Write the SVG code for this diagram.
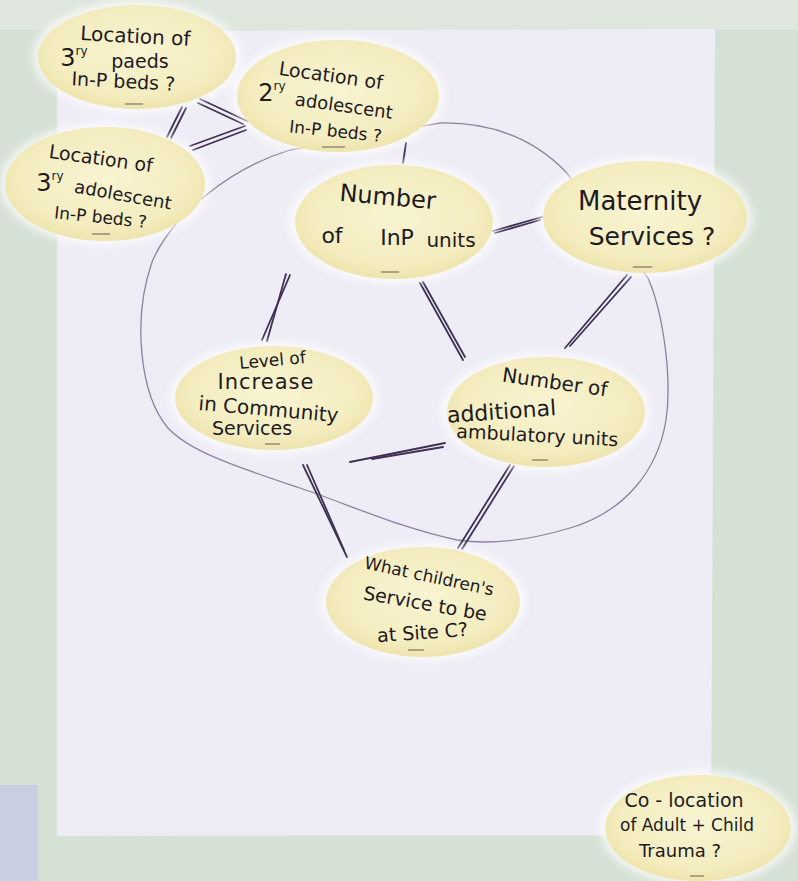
<svg xmlns="http://www.w3.org/2000/svg" width="798" height="881" viewBox="0 0 798 881">
  <defs>
    <radialGradient id="note" cx="50%" cy="45%" r="55%">
      <stop offset="0" stop-color="#f9f4d2"/>
      <stop offset="0.75" stop-color="#f4edc0"/>
      <stop offset="1" stop-color="#eee4ae"/>
    </radialGradient>
    <filter id="halo" x="-20%" y="-20%" width="140%" height="140%">
      <feGaussianBlur stdDeviation="4"/>
    </filter>
    <style>
      .note { fill: url(#note); }
      .glow { fill: #ffffff; opacity: 0.75; filter: url(#halo); }
      .mark { stroke: #8a8470; stroke-width: 1.4; }
      .hand { font-family: "DejaVu Sans", "Liberation Sans", sans-serif; fill: #1d1a22; text-anchor: middle; }
      .sup { font-size: 12px; }
      .pen { stroke: #3e3152; stroke-width: 1.8; stroke-linecap: round; fill: none; }
      .pencil { stroke: #8d829d; stroke-width: 1.3; fill: none; }
    </style>
  </defs>

  <!-- wall and flipchart sheet -->
  <rect x="0" y="0" width="798" height="881" fill="#d6e1d6"/>
  <rect x="0" y="0" width="798" height="30" fill="#dfe6dd"/>
  <rect x="0" y="785" width="38" height="96" fill="#c8cfe0"/>
  <polygon points="57,31 715,29 711,835 57,836" fill="#eeedf6"/>

  <!-- the loop drawn round the central group -->
  <path class="pencil" d="M 440,123 C 500,122 540,145 566,172 L 648,278 C 664,315 672,380 666,420 C 658,470 625,512 570,528 C 530,540 490,545 457,540 C 400,528 350,505 300,488 C 240,468 190,452 168,428 C 140,395 132,320 152,262 C 172,215 230,168 290,150 Z"/>

  <!-- connectors -->
  <g id="connectors">
    <line class="pen" x1="182" y1="107" x2="167" y2="137"/>
    <line class="pen" x1="186" y1="108" x2="171" y2="138"/>
    <line class="pen" x1="200" y1="99" x2="247" y2="121"/>
    <line class="pen" x1="198" y1="103" x2="243" y2="124"/>
    <line class="pen" x1="190" y1="146" x2="245" y2="126"/>
    <line class="pen" x1="193" y1="150" x2="246" y2="130"/>
    <line class="pen" x1="406" y1="143" x2="403" y2="163"/>
    <line class="pen" x1="493" y1="231" x2="542" y2="217"/>
    <line class="pen" x1="495" y1="233" x2="540" y2="220"/>
    <line class="pen" x1="290" y1="275" x2="262" y2="340"/>
    <line class="pen" x1="286" y1="274" x2="267" y2="341"/>
    <line class="pen" x1="420" y1="283" x2="463" y2="360" stroke-width="1.3"/>
    <line class="pen" x1="423" y1="282" x2="465" y2="357" stroke-width="1.3"/>
    <line class="pen" x1="627" y1="275" x2="565" y2="348" stroke-width="1.4"/>
    <line class="pen" x1="631" y1="277" x2="570" y2="346" stroke-width="1.4"/>
    <line class="pen" x1="350" y1="462" x2="445" y2="443"/>
    <line class="pen" x1="372" y1="459" x2="443" y2="447"/>
    <line class="pen" x1="303" y1="465" x2="347" y2="557"/>
    <line class="pen" x1="307" y1="465" x2="344" y2="550"/>
    <line class="pen" x1="510" y1="465" x2="458" y2="548"/>
    <line class="pen" x1="514" y1="466" x2="462" y2="549"/>
  </g>

  <!-- notes -->
  <g id="paeds-beds">
    <ellipse class="glow" cx="137" cy="57" rx="104" ry="56"/>
    <ellipse class="note" cx="137" cy="57" rx="99" ry="52"/>
    <line class="mark" x1="125" y1="104" x2="143" y2="104"/>
    <text class="hand" font-size="20" x="135" y="43" transform="rotate(3 135 43)">Location of</text>
    <text class="hand" font-size="24" x="74" y="66">3<tspan class="sup" dy="-11">ry</tspan></text>
    <text class="hand" font-size="19" x="140" y="68">paeds</text>
    <text class="hand" font-size="19" x="123" y="88" transform="rotate(3 123 88)">In-P  beds ?</text>
  </g>

  <g id="secondary-adolescent-beds">
    <ellipse class="glow" cx="338" cy="96" rx="106" ry="60"/>
    <ellipse class="note" cx="338" cy="96" rx="101" ry="56"/>
    <line class="mark" x1="322" y1="147" x2="345" y2="147"/>
    <text class="hand" font-size="19" x="330" y="82" transform="rotate(8 330 82)">Location of</text>
    <text class="hand" font-size="24" x="272" y="101">2<tspan class="sup" dy="-11">ry</tspan></text>
    <text class="hand" font-size="18" x="343" y="112" transform="rotate(8 343 112)">adolescent</text>
    <text class="hand" font-size="17" x="335" y="137" transform="rotate(6 335 137)">In-P  beds ?</text>
  </g>

  <g id="tertiary-adolescent-beds">
    <ellipse class="glow" cx="105" cy="184" rx="105" ry="61"/>
    <ellipse class="note" cx="105" cy="184" rx="100" ry="57"/>
    <line class="mark" x1="92" y1="234" x2="110" y2="234"/>
    <text class="hand" font-size="19" x="100" y="165" transform="rotate(8 100 165)">Location of</text>
    <text class="hand" font-size="24" x="50" y="191">3<tspan class="sup" dy="-11">ry</tspan></text>
    <text class="hand" font-size="18" x="122" y="201" transform="rotate(10 122 201)">adolescent</text>
    <text class="hand" font-size="17" x="100" y="223" transform="rotate(6 100 223)">In-P  beds ?</text>
  </g>

  <g id="inpatient-units">
    <ellipse class="glow" cx="394" cy="222" rx="104" ry="61"/>
    <ellipse class="note" cx="394" cy="222" rx="99" ry="57"/>
    <line class="mark" x1="381" y1="272" x2="399" y2="272"/>
    <text class="hand" font-size="24" x="387" y="205" transform="rotate(5 387 205)">Number</text>
    <text class="hand" font-size="22" x="332" y="243">of</text>
    <text class="hand" font-size="22" x="397" y="245">InP</text>
    <text class="hand" font-size="20" x="451" y="247">units</text>
  </g>

  <g id="maternity">
    <ellipse class="glow" cx="645" cy="217" rx="107" ry="60"/>
    <ellipse class="note" cx="645" cy="217" rx="102" ry="56"/>
    <line class="mark" x1="633" y1="267" x2="652" y2="267"/>
    <text class="hand" font-size="26" x="640" y="210">Maternity</text>
    <text class="hand" font-size="25" x="652" y="245">Services ?</text>
  </g>

  <g id="community-services">
    <ellipse class="glow" cx="274" cy="398" rx="104" ry="56"/>
    <ellipse class="note" cx="274" cy="398" rx="99" ry="52"/>
    <line class="mark" x1="265" y1="444" x2="280" y2="444"/>
    <text class="hand" font-size="17" x="273" y="366" transform="rotate(-5 273 366)">Level of</text>
    <text class="hand" font-size="21" x="266" y="389" letter-spacing="1">Increase</text>
    <text class="hand" font-size="20" x="268" y="416" transform="rotate(5 268 416)">in  Community</text>
    <text class="hand" font-size="19" x="252" y="435">Services</text>
  </g>

  <g id="ambulatory-units">
    <ellipse class="glow" cx="546" cy="412" rx="104" ry="59"/>
    <ellipse class="note" cx="546" cy="412" rx="99" ry="55"/>
    <line class="mark" x1="532" y1="460" x2="548" y2="460"/>
    <text class="hand" font-size="20" x="554" y="389" transform="rotate(8 554 389)">Number  of</text>
    <text class="hand" font-size="22" x="502" y="419" transform="rotate(-4 502 419)">additional</text>
    <text class="hand" font-size="19" x="537" y="442" transform="rotate(3 537 442)">ambulatory  units</text>
  </g>

  <g id="site-c">
    <ellipse class="glow" cx="423" cy="602" rx="102" ry="59"/>
    <ellipse class="note" cx="423" cy="602" rx="97" ry="55"/>
    <line class="mark" x1="408" y1="650" x2="424" y2="650"/>
    <text class="hand" font-size="17" x="428" y="582" transform="rotate(12 428 582)">What children's</text>
    <text class="hand" font-size="19" x="424" y="610" transform="rotate(10 424 610)">Service  to be</text>
    <text class="hand" font-size="19" x="423" y="639" transform="rotate(-4 423 639)">at  Site C?</text>
  </g>

  <g id="trauma-colocation">
    <ellipse class="glow" cx="698" cy="828" rx="98" ry="57"/>
    <ellipse class="note" cx="698" cy="828" rx="93" ry="53"/>
    <line class="mark" x1="690" y1="876" x2="704" y2="876"/>
    <text class="hand" font-size="19" x="684" y="807">Co - location</text>
    <text class="hand" font-size="17" x="687" y="831">of Adult + Child</text>
    <text class="hand" font-size="18" x="680" y="857">Trauma ?</text>
  </g>
</svg>
